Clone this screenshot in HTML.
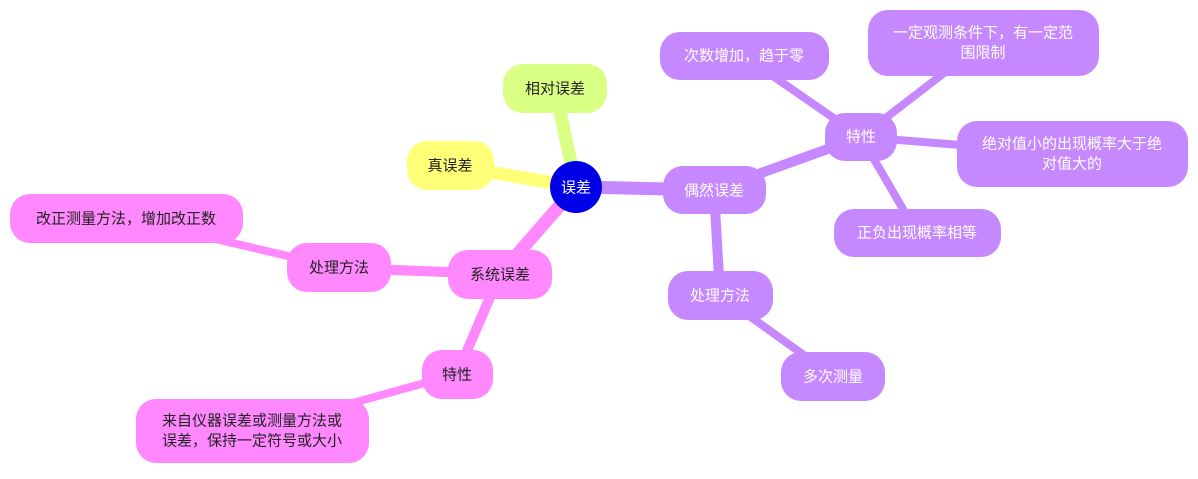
<!DOCTYPE html>
<html><head><meta charset="utf-8"><style>
html,body{margin:0;padding:0;background:#fff;}
svg text{font-family:"Liberation Sans","Noto Sans CJK SC",sans-serif;font-size:15px;text-anchor:middle;dominant-baseline:central;}
</style></head><body>
<svg width="1198" height="474" viewBox="0 0 1198 474" xmlns="http://www.w3.org/2000/svg">
<g stroke-linecap="round">
<line x1="576" y1="187" x2="555" y2="88" stroke="#d9ff85" stroke-width="13"/>
<line x1="576" y1="187" x2="450" y2="165" stroke="#ffff78" stroke-width="13"/>
<line x1="576" y1="187" x2="714" y2="190" stroke="#c688ff" stroke-width="13"/>
<line x1="576" y1="187" x2="500" y2="274" stroke="#ff88ff" stroke-width="13"/>
<line x1="714" y1="190" x2="861" y2="137" stroke="#c688ff" stroke-width="10"/>
<line x1="714" y1="190" x2="720" y2="295" stroke="#c688ff" stroke-width="10"/>
<line x1="861" y1="137" x2="744" y2="56" stroke="#c688ff" stroke-width="8"/>
<line x1="861" y1="137" x2="983" y2="43" stroke="#c688ff" stroke-width="8"/>
<line x1="861" y1="137" x2="1072" y2="154" stroke="#c688ff" stroke-width="8"/>
<line x1="861" y1="137" x2="917" y2="233" stroke="#c688ff" stroke-width="8"/>
<line x1="720" y1="295" x2="833" y2="376" stroke="#c688ff" stroke-width="8"/>
<line x1="500" y1="274" x2="339" y2="268" stroke="#ff88ff" stroke-width="10"/>
<line x1="500" y1="274" x2="457" y2="374" stroke="#ff88ff" stroke-width="10"/>
<line x1="339" y1="268" x2="126" y2="218" stroke="#ff88ff" stroke-width="8"/>
<line x1="457" y1="374" x2="252" y2="431" stroke="#ff88ff" stroke-width="8"/>
</g>
<g>
<rect x="503" y="64" width="104" height="49" rx="20" fill="#d9ff85"/><text x="555" y="89" fill="#222">相对误差</text>
<rect x="407" y="141" width="87" height="49" rx="20" fill="#ffff78"/><text x="450" y="166" fill="#222">真误差</text>
<rect x="663" y="166" width="103" height="48" rx="20" fill="#c688ff"/><text x="714" y="191" fill="#fff">偶然误差</text>
<rect x="448" y="250" width="104" height="49" rx="20" fill="#ff88ff"/><text x="500" y="275" fill="#222">系统误差</text>
<rect x="287" y="243" width="104" height="49" rx="20" fill="#ff88ff"/><text x="339" y="268" fill="#222">处理方法</text>
<rect x="10" y="194" width="233" height="49" rx="20" fill="#ff88ff"/><text x="126" y="219" fill="#222">改正测量方法，增加改正数</text>
<rect x="422" y="350" width="71" height="49" rx="20" fill="#ff88ff"/><text x="457" y="375" fill="#222">特性</text>
<rect x="136" y="399" width="233" height="64" rx="20" fill="#ff88ff"/><text x="252" y="421" fill="#222">来自仪器误差或测量方法或</text><text x="252" y="441" fill="#222">误差，保持一定符号或大小</text>
<rect x="825" y="113" width="72" height="48" rx="20" fill="#c688ff"/><text x="861" y="137" fill="#fff">特性</text>
<rect x="660" y="32" width="169" height="48" rx="20" fill="#c688ff"/><text x="744" y="56" fill="#fff">次数增加，趋于零</text>
<rect x="868" y="10" width="231" height="66" rx="20" fill="#c688ff"/><text x="983" y="33" fill="#fff">一定观测条件下，有一定范</text><text x="983" y="53" fill="#fff">围限制</text>
<rect x="957" y="121" width="231" height="66" rx="20" fill="#c688ff"/><text x="1072" y="144" fill="#fff">绝对值小的出现概率大于绝</text><text x="1072" y="164" fill="#fff">对值大的</text>
<rect x="834" y="209" width="167" height="48" rx="20" fill="#c688ff"/><text x="917" y="233" fill="#fff">正负出现概率相等</text>
<rect x="668" y="271" width="105" height="49" rx="20" fill="#c688ff"/><text x="720" y="296" fill="#fff">处理方法</text>
<rect x="781" y="352" width="104" height="49" rx="20" fill="#c688ff"/><text x="833" y="377" fill="#fff">多次测量</text>
<circle cx="576" cy="187" r="26" fill="#0000e6"/><text x="576" y="188" fill="#fff">误差</text>
</g>
</svg>
</body></html>
